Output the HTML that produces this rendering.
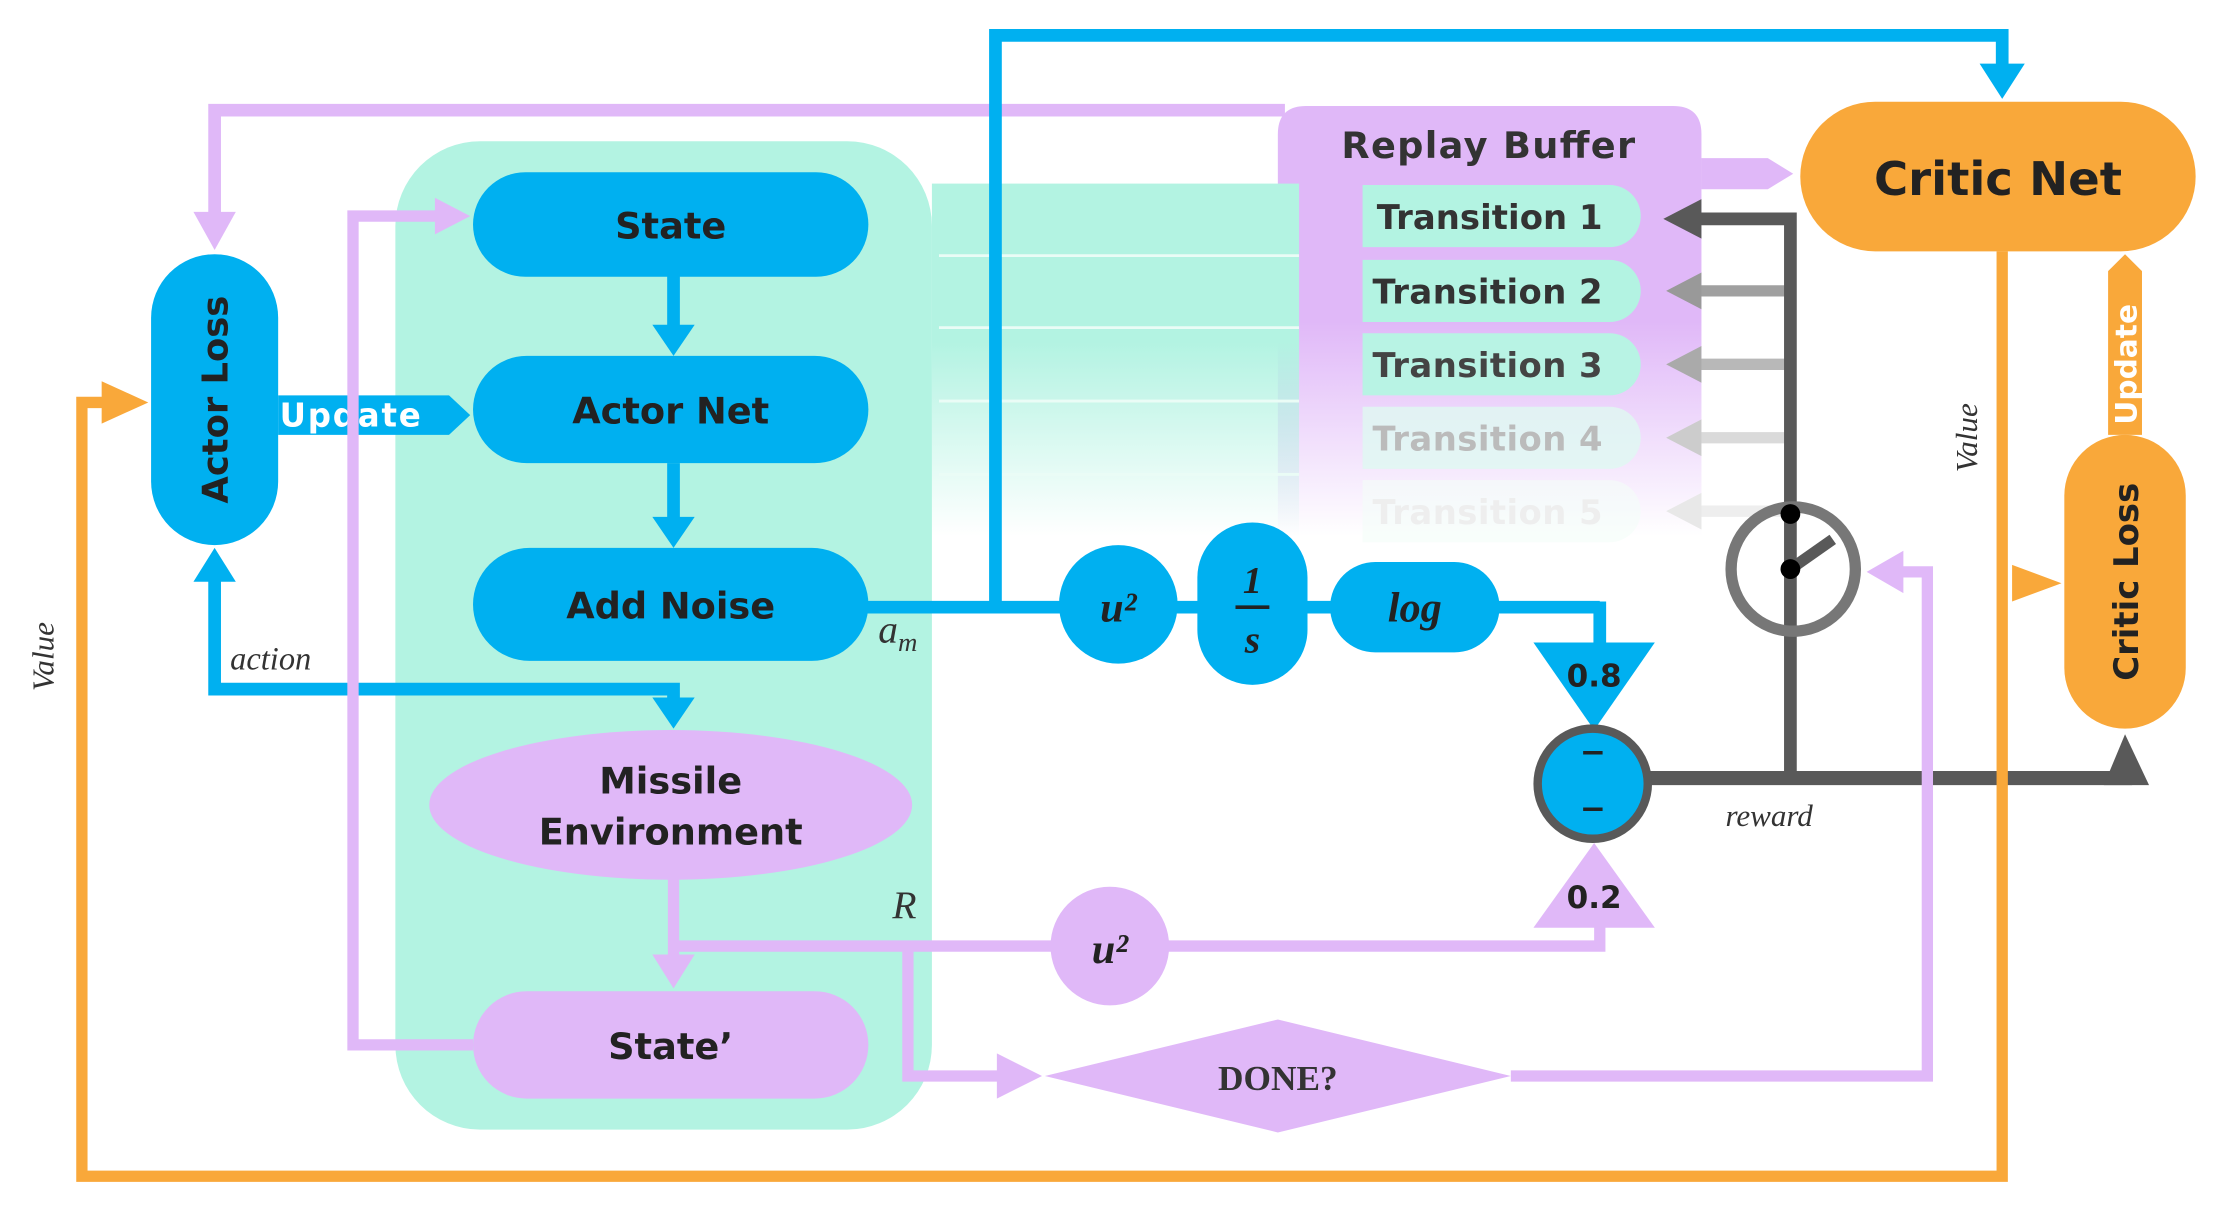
<!DOCTYPE html>
<html><head><meta charset="utf-8"><style>
html,body{margin:0;padding:0;background:#fff;width:2214px;height:1211px;overflow:hidden}
svg{display:block}
text{font-family:"DejaVu Sans","Liberation Sans",sans-serif;font-weight:bold}
.it{font-family:"Liberation Serif",serif;font-style:italic;font-weight:normal}
.mb{font-family:"Liberation Serif",serif;font-style:italic;font-weight:bold}
</style></head><body>
<svg width="2214" height="1211" viewBox="0 0 1568 857.6" xmlns="http://www.w3.org/2000/svg">
<defs>
<linearGradient id="pf" x1="0" y1="0" x2="0" y2="1">
<stop offset="0" stop-color="#e0b8f8"/><stop offset="0.5" stop-color="#e0b8f8"/><stop offset="1" stop-color="#e0b8f8" stop-opacity="0"/></linearGradient>
<linearGradient id="gf" x1="0" y1="0" x2="0" y2="1">
<stop offset="0" stop-color="#b3f3e2"/><stop offset="0.45" stop-color="#b3f3e2"/><stop offset="1" stop-color="#b3f3e2" stop-opacity="0"/></linearGradient>
</defs>
<path d="M905 380 V95 Q905 75 925 75 H1185 Q1205 75 1205 95 V380 Z" fill="url(#pf)"/>
<polygon points="1205,112 1252,112 1270,123 1252,134 1205,134" fill="#e0b8f8"/>
<rect x="280" y="100" width="380" height="700" rx="60" fill="#b3f3e2"/>
<rect x="660" y="130" width="260" height="250" fill="url(#gf)"/>
<g stroke="#eafcf6" stroke-width="2">
<line x1="665" y1="181" x2="920" y2="181"/><line x1="665" y1="232" x2="920" y2="232"/><line x1="665" y1="284" x2="920" y2="284"/><line x1="665" y1="336" x2="920" y2="336"/></g>
<g font-size="24" fill="#333">
<path d="M965 131 H1140 a22 22 0 0 1 0 44 H965Z" fill="#b3f3e2"/>
<path d="M965 184 H1140 a22 22 0 0 1 0 44 H965Z" fill="#b3f3e2"/>
<path d="M965 236 H1140 a22 22 0 0 1 0 44 H965Z" fill="#b8f3e4"/>
<path d="M965 288 H1140 a22 22 0 0 1 0 44 H965Z" fill="#dff9f1" opacity="0.8"/>
<path d="M965 340 H1140 a22 22 0 0 1 0 44 H965Z" fill="#f3fdf9" opacity="0.6"/>
<text x="975" y="162" textLength="160">Transition 1</text>
<text x="972" y="215" textLength="163">Transition 2</text>
<text x="972" y="267" fill="#444" textLength="163">Transition 3</text>
<text x="972" y="319" fill="#bbb" textLength="163">Transition 4</text>
<text x="972" y="371" fill="#eee" textLength="163">Transition 5</text>
</g>
<text x="950" y="112" font-size="26" fill="#333" textLength="208">Replay Buffer</text>
<g stroke-width="8">
<line x1="1200" y1="206" x2="1268" y2="206" stroke="#a0a0a0"/>
<line x1="1200" y1="258" x2="1268" y2="258" stroke="#b8b8b8"/>
<line x1="1200" y1="310" x2="1268" y2="310" stroke="#dadada"/>
<line x1="1200" y1="362" x2="1268" y2="362" stroke="#eeeeee"/>
</g>
<polygon points="1180,206 1205,193 1205,219" fill="#999"/>
<polygon points="1180,258 1205,245 1205,271" fill="#aaa"/>
<polygon points="1180,310 1205,297 1205,323" fill="#ccc"/>
<polygon points="1180,362 1205,349 1205,375" fill="#e8e8e8"/>
<polyline points="1268,551 1268,155 1200,155" fill="none" stroke="#595959" stroke-width="9"/>
<polygon points="1178,155 1205,141 1205,169" fill="#595959"/>
<circle cx="1270" cy="403" r="44" fill="none" stroke="#777" stroke-width="8"/>
<line x1="1268" y1="403" x2="1298" y2="382" stroke="#595959" stroke-width="8"/>
<circle cx="1268" cy="364" r="7" fill="#000"/><circle cx="1268" cy="403" r="7" fill="#000"/>
<line x1="1160" y1="551" x2="1510" y2="551" stroke="#595959" stroke-width="10"/>
<polygon points="1490,556 1505,520 1522,556" fill="#595959"/>
<text x="1222" y="585" class="it" font-size="22" fill="#333">reward</text>
<rect x="1275" y="72" width="280" height="106" rx="53" fill="#f9a83a"/>
<text x="1415" y="138" font-size="33" fill="#222" text-anchor="middle" font-weight="normal" style="font-weight:600">Critic Net</text>
<rect x="1462" y="308" width="86" height="208" rx="43" fill="#f9a83a"/>
<text transform="translate(1514,412) rotate(-90)" font-size="24" fill="#222" text-anchor="middle">Critic Loss</text>
<polygon points="1493,308 1493,192 1505,180 1517,192 1517,308" fill="#f9a83a"/>
<text transform="translate(1513,258) rotate(-90)" font-size="21" fill="#fff" text-anchor="middle">Update</text>
<polygon points="1425,400 1460,413 1425,426" fill="#f9a83a"/>
<polyline points="1418,178 1418,833 58,833 58,285 80,285" fill="none" stroke="#f9a83a" stroke-width="8"/>
<polygon points="72,270 105,285 72,300" fill="#f9a83a"/>
<text transform="translate(1400,310) rotate(-90)" class="it" font-size="22" fill="#333" text-anchor="middle">Value</text>
<text transform="translate(38,465) rotate(-90)" class="it" font-size="22" fill="#333" text-anchor="middle">Value</text>
<polyline points="910,78 152,78 152,155" fill="none" stroke="#e0b8f8" stroke-width="9"/>
<polygon points="137,150 152,177 167,150" fill="#e0b8f8"/>
<polyline points="705,430 705,25 1418,25 1418,48" fill="none" stroke="#00b0f0" stroke-width="9"/>
<polygon points="1402,45 1418,70 1434,45" fill="#00b0f0"/>
<rect x="107" y="180" width="90" height="206" rx="45" fill="#00b0f0"/>
<text transform="translate(161,283) rotate(-90)" font-size="25" fill="#222" text-anchor="middle">Actor Loss</text>
<polygon points="197,280 318,280 333,294 318,308 197,308" fill="#00b0f0"/>
<text x="198" y="302" font-size="23" fill="#fff" textLength="100">Update</text>
<polyline points="152,410 152,488 477,488 477,500" fill="none" stroke="#00b0f0" stroke-width="9"/>
<polygon points="137,412 152,388 167,412" fill="#00b0f0"/>
<polygon points="462,494 477,516 492,494" fill="#00b0f0"/>
<text x="163" y="474" class="it" font-size="23" fill="#333">action</text>
<polyline points="335,740 250,740 250,153 312,153" fill="none" stroke="#e0b8f8" stroke-width="8"/>
<polygon points="308,140 333,153 308,166" fill="#e0b8f8"/>
<line x1="477" y1="195" x2="477" y2="235" stroke="#00b0f0" stroke-width="9"/>
<polygon points="462,230 477,252 492,230" fill="#00b0f0"/>
<line x1="477" y1="328" x2="477" y2="370" stroke="#00b0f0" stroke-width="9"/>
<polygon points="462,366 477,388 492,366" fill="#00b0f0"/>
<rect x="335" y="122" width="280" height="74" rx="37" fill="#00b0f0"/>
<text x="475" y="169" font-size="26" fill="#222" text-anchor="middle">State</text>
<rect x="335" y="252" width="280" height="76" rx="38" fill="#00b0f0"/>
<text x="475" y="300" font-size="26" fill="#222" text-anchor="middle">Actor Net</text>
<rect x="335" y="388" width="280" height="80" rx="40" fill="#00b0f0"/>
<text x="475" y="438" font-size="26" fill="#222" text-anchor="middle">Add Noise</text>
<line x1="612" y1="430" x2="1133" y2="430" stroke="#00b0f0" stroke-width="9"/>
<line x1="1133" y1="426" x2="1133" y2="460" stroke="#00b0f0" stroke-width="9"/>
<text x="622" y="455" class="it" font-size="28" fill="#333">a<tspan font-size="19" dy="6">m</tspan></text>
<circle cx="792" cy="428" r="42" fill="#00b0f0"/>
<text x="792" y="440" class="mb" font-size="30" fill="#222" text-anchor="middle">u²</text>
<rect x="848" y="370" width="78" height="115" rx="39" fill="#00b0f0"/>
<text x="887" y="420" class="mb" font-size="27" fill="#222" text-anchor="middle">1</text>
<line x1="875" y1="430" x2="899" y2="430" stroke="#222" stroke-width="2.5"/>
<text x="887" y="462" class="mb" font-size="28" fill="#222" text-anchor="middle">s</text>
<rect x="942" y="398" width="120" height="64" rx="32" fill="#00b0f0"/>
<text x="1002" y="440" class="mb" font-size="30" fill="#222" text-anchor="middle">log</text>
<polygon points="1086,455 1172,455 1129,517" fill="#00b0f0"/>
<text x="1129" y="486" font-size="22" fill="#222" text-anchor="middle">0.8</text>
<ellipse cx="475" cy="570" rx="171" ry="53" fill="#e0b8f8"/>
<text x="475" y="562" font-size="26" fill="#222" text-anchor="middle">Missile</text>
<text x="475" y="598" font-size="26" fill="#222" text-anchor="middle">Environment</text>
<line x1="477" y1="622" x2="477" y2="680" stroke="#e0b8f8" stroke-width="8"/>
<polygon points="462,676 477,700 492,676" fill="#e0b8f8"/>
<polyline points="477,670 1133,670 1133,650" fill="none" stroke="#e0b8f8" stroke-width="8"/>
<text x="632" y="650" class="it" font-size="28" fill="#333">R</text>
<circle cx="786" cy="670" r="42" fill="#e0b8f8"/>
<text x="786" y="682" class="mb" font-size="30" fill="#222" text-anchor="middle">u²</text>
<polygon points="1086,657 1172,657 1129,597" fill="#e0b8f8"/>
<text x="1129" y="643" font-size="22" fill="#222" text-anchor="middle">0.2</text>
<polyline points="643,670 643,762 712,762" fill="none" stroke="#e0b8f8" stroke-width="8"/>
<polygon points="706,746 738,762 706,778" fill="#e0b8f8"/>
<polygon points="740,762 905,722 1070,762 905,802" fill="#e0b8f8"/>
<text x="905" y="772" font-size="25" fill="#333" text-anchor="middle" style="font-family:'Liberation Serif',serif;font-weight:bold">DONE?</text>
<polyline points="1070,762 1365,762 1365,405 1345,405" fill="none" stroke="#e0b8f8" stroke-width="8"/>
<polygon points="1348,390 1322,405 1348,420" fill="#e0b8f8"/>
<rect x="335" y="702" width="280" height="76" rx="38" fill="#e0b8f8"/>
<text x="475" y="750" font-size="26" fill="#222" text-anchor="middle">State’</text>
<circle cx="1128" cy="555" r="39" fill="#00b0f0" stroke="#595959" stroke-width="6"/>
<text x="1128" y="540" font-size="22" fill="#222" text-anchor="middle">−</text>
<text x="1128" y="580" font-size="22" fill="#222" text-anchor="middle">−</text>
</svg>
</body></html>
